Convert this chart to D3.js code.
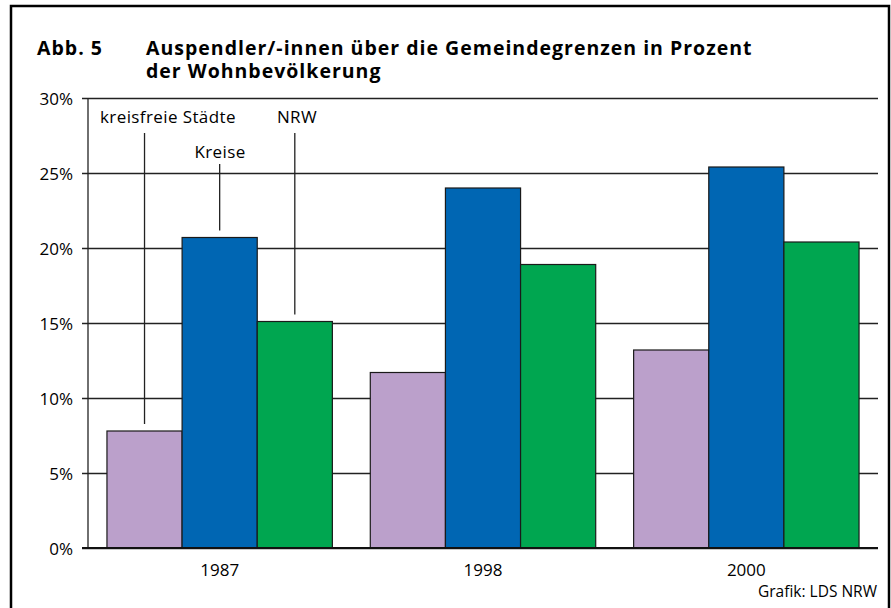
<!DOCTYPE html>
<html>
<head>
<meta charset="utf-8">
<script src="https://d3js.org/d3.v7.min.js"></script>
<style>
  body { margin: 0; background: #fff; }
  svg { display: block; font-family: "Open Sans", "Noto Sans", sans-serif; }
</style>
</head>
<body>
<div id="chart"></div>
<script>
const years = ["1987", "1998", "2000"];
const seriesNames = ["kreisfreie Städte", "Kreise", "NRW"];
const kreisfreieStaedte = [7.8, 11.7, 13.2];
const kreise = [20.7, 24.0, 25.4];
const nrw = [15.1, 18.9, 20.4];
const yTicks = [0, 5, 10, 15, 20, 25, 30];
const colors = ["#bba0cb", "#0066b3", "#00a650"];
const titleLines = ["Auspendler/-innen über die Gemeindegrenzen in Prozent", "der Wohnbevölkerung"];

const w = 891, h = 608;
const plotLeft = 88, plotRight = 878, plotTop = 98, plotBottom = 548;

const svg = d3.select("#chart").append("svg")
  .attr("width", w).attr("height", h);

// frame
svg.append("rect")
  .attr("x", 11).attr("y", 6)
  .attr("width", 878).attr("height", 620)
  .attr("fill", "none").attr("stroke", "#000").attr("stroke-width", 2.5);

// title (one text block, two lines)
const title = svg.append("text")
  .style("font-weight", "bold").style("font-size", "19.5px")
  .style("letter-spacing", "1px");
title.append("tspan").attr("x", 37).attr("y", 55).text("Abb. 5");
title.selectAll("tspan.line").data(titleLines).enter().append("tspan")
  .attr("class", "line")
  .attr("x", 146).attr("y", (d, i) => 55 + i * 23)
  .text(d => d);

const x0 = d3.scaleBand().domain(years).range([plotLeft, plotRight])
  .paddingInner(0.144).paddingOuter(0.072);
const x1 = d3.scaleBand().domain(seriesNames).range([0, x0.bandwidth()]);
const y = d3.scaleLinear().domain([0, 30]).range([plotBottom, plotTop]);

// gridlines + y labels
const yAxis = d3.axisLeft(y).tickValues(yTicks)
  .tickSize(-(plotRight - plotLeft)).tickSizeOuter(0)
  .tickFormat(d => d + "%");
const gy = svg.append("g").attr("transform", "translate(" + plotLeft + ",0)").call(yAxis);
gy.select(".domain").remove();
gy.selectAll(".tick line")
  .attr("x1", -6).attr("x2", plotRight - plotLeft)
  .attr("stroke", "#222").attr("stroke-width", 1.3);
gy.selectAll(".tick text")
  .attr("x", -15).attr("dy", "0.36em")
  .style("font-size", "17px").style("font-family", "Open Sans, sans-serif").attr("fill", "#000");

// y axis line
svg.append("line")
  .attr("x1", plotLeft).attr("x2", plotLeft).attr("y1", plotTop).attr("y2", plotBottom)
  .attr("stroke", "#222").attr("stroke-width", 1.3);

// bars
const table = years.map((yr, i) => ({
  year: yr,
  values: [kreisfreieStaedte[i], kreise[i], nrw[i]]
}));
const groups = svg.selectAll("g.grp").data(table).enter().append("g")
  .attr("class", "grp")
  .attr("transform", d => "translate(" + x0(d.year) + ",0)");
groups.selectAll("rect")
  .data(d => d.values.map((v, k) => ({ name: seriesNames[k], v: v, k: k })))
  .enter().append("rect")
  .attr("x", d => x1(d.name))
  .attr("width", x1.bandwidth())
  .attr("y", d => y(d.v))
  .attr("height", d => y(0) - y(d.v))
  .attr("fill", d => colors[d.k])
  .attr("stroke", "#1a1a1a").attr("stroke-width", 1.2);

// baseline
svg.append("line")
  .attr("x1", plotLeft - 6).attr("x2", plotRight).attr("y1", plotBottom).attr("y2", plotBottom)
  .attr("stroke", "#111").attr("stroke-width", 2.2);

// x labels
const xAxis = d3.axisBottom(x0).tickSize(0);
const gx = svg.append("g").attr("transform", "translate(0," + plotBottom + ")").call(xAxis);
gx.select(".domain").remove();
gx.selectAll(".tick text").attr("y", 16)
  .style("font-size", "17px").style("font-family", "Open Sans, sans-serif").attr("fill", "#000");

// series labels with leader lines (first group)
const labelPos = [
  { x: 100, y: 123, anchor: "start", lineTop: 133 },
  { x: 220, y: 158, anchor: "middle", lineTop: 164 },
  { x: 297, y: 123, anchor: "middle", lineTop: 133 }
];
seriesNames.forEach((name, k) => {
  const cx = x0(years[0]) + x1(name) + x1.bandwidth() / 2;
  const v = table[0].values[k];
  svg.append("line")
    .attr("x1", cx).attr("x2", cx)
    .attr("y1", labelPos[k].lineTop).attr("y2", y(v) - 7)
    .attr("stroke", "#222").attr("stroke-width", 1.3);
  svg.append("text")
    .attr("x", labelPos[k].x).attr("y", labelPos[k].y)
    .attr("text-anchor", labelPos[k].anchor)
    .style("font-size", "17px").style("letter-spacing", "0.4px")
    .text(name);
});

// source
svg.append("text").attr("x", 877).attr("y", 597)
  .attr("text-anchor", "end").style("font-size", "15.5px")
  .text("Grafik: LDS NRW");
</script>
</body>
</html>
